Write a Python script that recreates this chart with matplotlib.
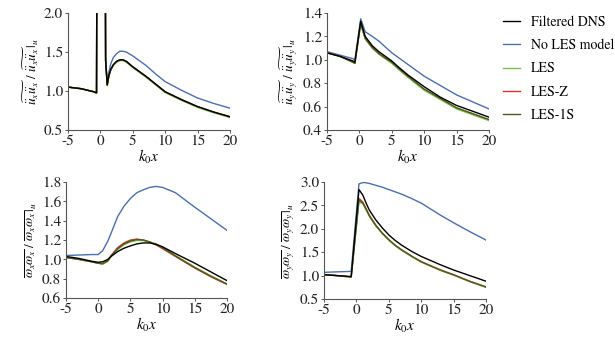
import matplotlib
matplotlib.use("Agg")
import matplotlib.pyplot as plt

plt.rcParams['font.family'] = ['STIXGeneral', 'Liberation Serif', 'DejaVu Serif']
plt.rcParams['mathtext.fontset'] = 'stix'

labels = ["Filtered DNS", "No LES model", "LES", "LES-Z", "LES-1S"]
colors = ["#000000", "#4a6db5", "#7cc24e", "#e03127", "#4b5a1a"]

# Panel (a): u''_x u''_x
xa = [-5, -3, -1, -0.6, -0.45, 0.65, 0.8, 1.05, 1.3, 1.6, 2, 2.5, 3, 3.5, 4, 5, 6, 7, 8.5, 10, 12.5, 15, 17.5, 20]
a_dns  = [1.05, 1.03, 0.99, 0.98, 6, 6, 1.40, 1.08, 1.20, 1.28, 1.34, 1.38, 1.40, 1.40, 1.38, 1.31, 1.25, 1.19, 1.09, 0.99, 0.89, 0.80, 0.73, 0.67]
a_nles = [1.05, 1.03, 0.99, 0.98, 6, 6, 1.45, 1.10, 1.24, 1.35, 1.43, 1.48, 1.51, 1.51, 1.50, 1.45, 1.39, 1.33, 1.22, 1.12, 1.01, 0.91, 0.84, 0.78]
a_les  = [1.05, 1.03, 0.99, 0.97, 6, 6, 1.38, 1.07, 1.19, 1.27, 1.33, 1.37, 1.39, 1.39, 1.37, 1.30, 1.24, 1.18, 1.08, 0.98, 0.88, 0.79, 0.72, 0.66]
a_lesz = [1.05, 1.03, 0.99, 0.97, 6, 6, 1.39, 1.07, 1.19, 1.27, 1.33, 1.375, 1.395, 1.395, 1.375, 1.305, 1.245, 1.185, 1.085, 0.985, 0.885, 0.795, 0.725, 0.665]
a_les1 = [1.05, 1.03, 0.99, 0.975, 6, 6, 1.39, 1.075, 1.195, 1.275, 1.335, 1.38, 1.40, 1.40, 1.38, 1.31, 1.25, 1.19, 1.09, 0.99, 0.89, 0.80, 0.73, 0.67]

# Panel (b): u''_y u''_y
xb = [-5, -3, -1, -0.7, 0.2, 0.9, 2, 3, 4, 5, 6, 7.5, 10, 12.5, 15, 17.5, 20]
b_dns  = [1.06, 1.03, 0.99, 0.98, 1.33, 1.20, 1.12, 1.07, 1.03, 0.99, 0.94, 0.87, 0.77, 0.68, 0.61, 0.56, 0.51]
b_nles = [1.07, 1.04, 1.01, 1.00, 1.35, 1.24, 1.20, 1.16, 1.11, 1.06, 1.02, 0.96, 0.86, 0.78, 0.70, 0.64, 0.58]
b_les  = [1.06, 1.03, 0.98, 0.97, 1.31, 1.18, 1.10, 1.05, 1.01, 0.97, 0.92, 0.85, 0.74, 0.66, 0.58, 0.53, 0.48]
b_lesz = [1.06, 1.03, 0.98, 0.97, 1.31, 1.18, 1.10, 1.05, 1.012, 0.975, 0.925, 0.855, 0.745, 0.665, 0.585, 0.535, 0.485]
b_les1 = [1.06, 1.03, 0.98, 0.97, 1.315, 1.185, 1.105, 1.055, 1.015, 0.98, 0.93, 0.86, 0.75, 0.67, 0.59, 0.54, 0.49]

# Panel (c): omega_x omega_x
xc = [-5, -3, -1, 0, 0.7, 1.5, 2, 3, 4, 5, 6, 7, 8, 9, 10, 12, 15, 17.5, 20]
c_dns  = [1.03, 1.01, 0.98, 0.97, 0.975, 1.00, 1.03, 1.08, 1.115, 1.14, 1.16, 1.17, 1.17, 1.155, 1.13, 1.06, 0.96, 0.87, 0.78]
c_nles = [1.04, 1.045, 1.05, 1.05, 1.09, 1.19, 1.27, 1.44, 1.55, 1.63, 1.69, 1.72, 1.745, 1.755, 1.745, 1.69, 1.54, 1.42, 1.30]
c_les  = [1.02, 1.00, 0.975, 0.96, 0.95, 0.98, 1.03, 1.10, 1.15, 1.18, 1.195, 1.195, 1.18, 1.16, 1.125, 1.04, 0.92, 0.83, 0.745]
c_lesz = [1.02, 1.00, 0.975, 0.96, 0.955, 0.99, 1.04, 1.12, 1.17, 1.20, 1.21, 1.20, 1.18, 1.15, 1.11, 1.03, 0.91, 0.82, 0.74]
c_les1 = [1.02, 1.00, 0.975, 0.96, 0.955, 0.985, 1.035, 1.11, 1.16, 1.19, 1.205, 1.20, 1.18, 1.155, 1.12, 1.035, 0.915, 0.825, 0.745]

# Panel (d): omega_y omega_y
xd = [-5, -3, -0.8, 0.4, 1, 1.5, 2, 3, 4, 5, 6, 7, 8.5, 10, 11.5, 13, 15, 17.5, 20]
d_dns  = [1.02, 1.00, 0.98, 2.84, 2.72, 2.55, 2.40, 2.19, 2.02, 1.87, 1.75, 1.65, 1.52, 1.41, 1.32, 1.23, 1.12, 1.00, 0.88]
d_nles = [1.07, 1.08, 1.09, 2.96, 2.99, 2.985, 2.97, 2.93, 2.89, 2.84, 2.79, 2.74, 2.65, 2.55, 2.42, 2.29, 2.13, 1.94, 1.76]
d_les  = [1.02, 1.00, 0.97, 2.58, 2.53, 2.40, 2.27, 2.06, 1.90, 1.76, 1.64, 1.54, 1.41, 1.29, 1.20, 1.11, 1.01, 0.87, 0.75]
d_lesz = [1.02, 1.00, 0.97, 2.65, 2.57, 2.43, 2.29, 2.08, 1.91, 1.77, 1.65, 1.55, 1.42, 1.30, 1.21, 1.12, 1.02, 0.88, 0.76]
d_les1 = [1.02, 1.00, 0.97, 2.62, 2.55, 2.42, 2.28, 2.07, 1.905, 1.765, 1.645, 1.545, 1.415, 1.295, 1.205, 1.115, 1.015, 0.875, 0.755]

xticks = [-5, 0, 5, 10, 15, 20]

panels = [
    dict(rect=[0.1106, 0.6154, 0.2634, 0.346], x=xa,
         ys=[a_dns, a_nles, a_les, a_lesz, a_les1], ylim=(0.5, 2.0),
         yticks=[0.5, 1.0, 1.5, 2.0], fmt="{:.1f}",
         ylabel=r"$\widetilde{\ddot{u}_x \ddot{u}_x}\ /\ \widetilde{\ddot{u}_x \ddot{u}_x}\,|_u$"),
    dict(rect=[0.5317, 0.6154, 0.2634, 0.346], x=xb,
         ys=[b_dns, b_nles, b_les, b_lesz, b_les1], ylim=(0.4, 1.4),
         yticks=[0.4, 0.6, 0.8, 1.0, 1.2, 1.4], fmt="{:.1f}",
         ylabel=r"$\widetilde{\ddot{u}_y \ddot{u}_y}\ /\ \widetilde{\ddot{u}_y \ddot{u}_y}\,|_u$"),
    dict(rect=[0.1073, 0.1183, 0.2618, 0.343], x=xc,
         ys=[c_dns, c_nles, c_les, c_lesz, c_les1], ylim=(0.6, 1.8),
         yticks=[0.6, 0.8, 1.0, 1.2, 1.4, 1.6, 1.8], fmt="{:.1f}",
         ylabel=r"$\overline{\omega_x\omega_x}\ /\ \overline{\omega_x\omega_x}\,|_u$"),
    dict(rect=[0.5268, 0.1154, 0.2634, 0.346], x=xd,
         ys=[d_dns, d_nles, d_les, d_lesz, d_les1], ylim=(0.5, 3.0),
         yticks=[0.5, 1.0, 1.5, 2.0, 2.5, 3.0], fmt="{:.1f}",
         ylabel=r"$\overline{\omega_y\omega_y}\ /\ \overline{\omega_y\omega_y}\,|_u$"),
]

fig = plt.figure(figsize=(6.15, 3.38), dpi=100)
for p in panels:
    ax = fig.add_axes(p["rect"])
    handles = {}
    for i in [1, 3, 2, 4, 0]:
        ln, = ax.plot(p["x"], p["ys"][i], color=colors[i], lw=1.0, label=labels[i])
        handles[i] = ln
    ax.set_xlim(-5, 20)
    ax.set_ylim(*p["ylim"])
    ax.set_xticks(xticks)
    ax.set_xticklabels([str(t) for t in xticks])
    ax.set_yticks(p["yticks"])
    ax.set_yticklabels([p["fmt"].format(t) for t in p["yticks"]])
    for s in ["top", "right"]:
        ax.spines[s].set_visible(False)
    for s in ["left", "bottom"]:
        ax.spines[s].set_color("#555555")
        ax.spines[s].set_linewidth(0.8)
    ax.tick_params(direction="out", length=2.5, width=0.7, color="#555555",
                   labelsize=11, pad=1.0, labelcolor="#222222")
    ax.set_xlabel(r"$k_0x$", fontsize=11, labelpad=0)
    ax.set_ylabel(p["ylabel"], fontsize=9.5, labelpad=2)

fig.legend([handles[i] for i in range(5)], labels, loc="upper left",
           bbox_to_anchor=(0.798, 0.99), frameon=False, fontsize=10,
           handlelength=1.2, handletextpad=0.8, labelspacing=0.7)

fig.savefig("out.png", dpi=100, facecolor="white")
